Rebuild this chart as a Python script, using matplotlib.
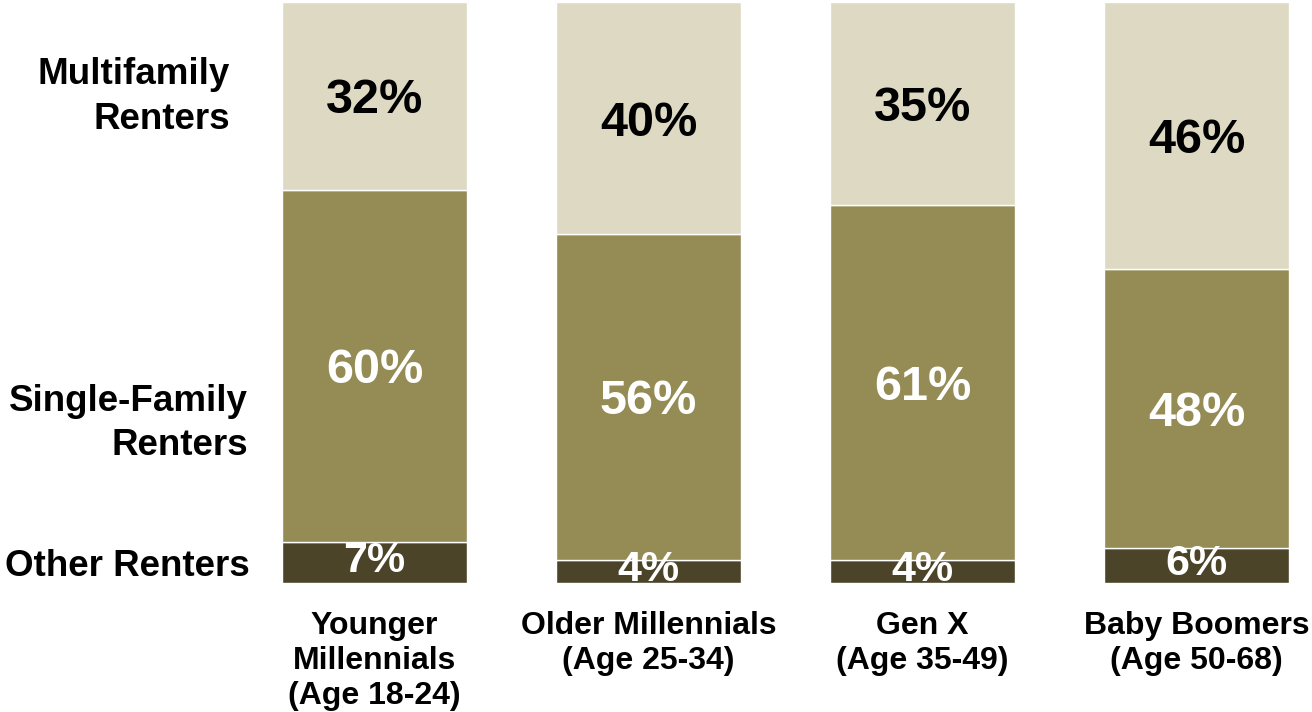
import numpy as np
import matplotlib.pyplot as plt

plt.rcParams['font.family'] = ['Liberation Sans', 'DejaVu Sans']

groups = ["Younger\nMillennials\n(Age 18-24)", "Older Millennials\n(Age 25-34)",
          "Gen X\n(Age 35-49)", "Baby Boomers\n(Age 50-68)"]
other = np.array([7, 4, 4, 6])
single = np.array([60, 56, 61, 48])
multi = np.array([32, 40, 35, 46])

c_other = '#4B4429'
c_single = '#958B54'
c_multi = '#DDD9C3'

total = other + single + multi
o_n = other / total
s_n = single / total
m_n = multi / total

fig = plt.figure(figsize=(13.12, 7.12), dpi=100)
ax = fig.add_axes([0.202, 0.1812, 0.7934, 0.816])
x = np.arange(len(groups))
w = 0.675
ax.bar(x, o_n, w, color=c_other, edgecolor='white', linewidth=1)
ax.bar(x, s_n, w, bottom=o_n, color=c_single, edgecolor='white', linewidth=1)
ax.bar(x, m_n, w, bottom=o_n + s_n, color=c_multi, edgecolor='white', linewidth=1)

for i in range(len(groups)):
    ax.annotate(f"{other[i]}%", (x[i], o_n[i] / 2), xytext=(0, 1),
                textcoords='offset points', ha='center', va='center',
                color='white', fontsize=31, fontweight='bold')
    ax.annotate(f"{single[i]}%", (x[i], o_n[i] + s_n[i] / 2), xytext=(0, -3.5),
                textcoords='offset points', ha='center', va='center',
                color='white', fontsize=35, fontweight='bold')
    ax.annotate(f"{multi[i]}%", (x[i], o_n[i] + s_n[i] + m_n[i] / 2), xytext=(0, -3.5),
                textcoords='offset points', ha='center', va='center',
                color='black', fontsize=35, fontweight='bold')
    ax.text(x[i], -0.048, groups[i], ha='center', va='top', fontsize=23,
            fontweight='bold', linespacing=1.22, transform=ax.get_xaxis_transform())

ax.set_xlim(-0.4, 3.4)
ax.set_ylim(0, 1)
ax.axis('off')

fig.text(0.1753, 0.8636, "Multifamily\nRenters", ha='right', va='center',
         fontsize=26.5, fontweight='bold', linespacing=1.35)
fig.text(0.189, 0.4055, "Single-Family\nRenters", ha='right', va='center',
         fontsize=26.5, fontweight='bold', linespacing=1.35)
fig.text(0.1905, 0.2050, "Other Renters", ha='right', va='center',
         fontsize=26.5, fontweight='bold')

fig.savefig("out.png", dpi=100)
